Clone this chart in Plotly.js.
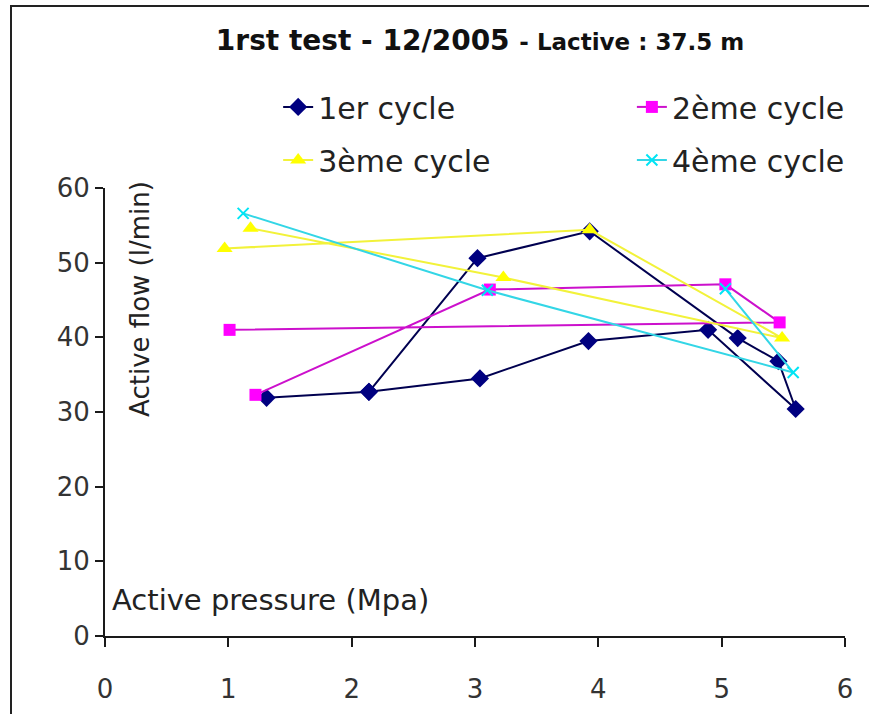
<!DOCTYPE html>
<html>
<head>
<meta charset="utf-8">
<script src="https://cdn.plot.ly/plotly-3.0.1.min.js"></script>
<style>
  html, body { margin: 0; padding: 0; background: #ffffff; }
  #chart { width: 869px; height: 714px; }
</style>
</head>
<body>
<div id="chart"></div>
<script>
// Active flow (l/min) against active pressure (MPa), four test cycles
const cycle1Pressure = [1.31, 2.14, 3.04, 3.92, 4.89, 5.60, 5.46, 5.13, 3.93, 3.02, 2.14];
const cycle1Flow     = [31.9, 32.7, 34.5, 39.5, 41.0, 30.4, 36.8, 39.9, 54.2, 50.6, 32.7];

const cycle2Pressure = [1.01, 5.47, 5.03, 3.12, 1.22];
const cycle2Flow     = [41.0, 42.0, 47.1, 46.4, 32.3];

const cycle3Pressure = [0.97, 3.93, 5.49, 3.23, 1.18];
const cycle3Flow     = [51.9, 54.4, 39.9, 48.0, 54.6];

const cycle4Pressure = [1.12, 3.10, 5.58, 5.03];
const cycle4Flow     = [56.6, 46.3, 35.3, 46.5];

const seriesNames = ['1er cycle', '2ème cycle', '3ème cycle', '4ème cycle'];
const xTicks = [0, 1, 2, 3, 4, 5, 6];
const yTicks = [0, 10, 20, 30, 40, 50, 60];

const FONT = 'DejaVu Sans, Arial, sans-serif';

const traces = [
  {
    x: cycle1Pressure, y: cycle1Flow, name: seriesNames[0], legend: 'legend',
    mode: 'lines+markers', type: 'scatter',
    line: { color: '#000050', width: 2 },
    marker: { symbol: 'diamond', size: 14, color: '#000080' }
  },
  {
    x: cycle2Pressure, y: cycle2Flow, name: seriesNames[1], legend: 'legend2',
    mode: 'lines+markers', type: 'scatter',
    line: { color: '#cc10cc', width: 2 },
    marker: { symbol: 'square', size: 12, color: '#ff00ff' }
  },
  {
    x: cycle3Pressure, y: cycle3Flow, name: seriesNames[2], legend: 'legend3',
    mode: 'lines+markers', type: 'scatter',
    line: { color: '#f2f23a', width: 2 },
    marker: { symbol: 'triangle-up', size: 14, color: '#ffff00' }
  },
  {
    x: cycle4Pressure, y: cycle4Flow, name: seriesNames[3], legend: 'legend4',
    mode: 'lines+markers', type: 'scatter',
    line: { color: '#33d6e6', width: 2 },
    marker: { symbol: 'x-thin', size: 11, color: '#00e5f5', line: { color: '#00e5f5', width: 2 } }
  }
];

// Legend laid out as a 2 x 2 grid, one legend box per entry
function legendAt(x, y) {
  return {
    orientation: 'h',
    xanchor: 'left', yanchor: 'middle',
    x: x, y: y,
    bgcolor: 'rgba(0,0,0,0)', borderwidth: 0,
    font: { family: FONT, size: 30, color: '#222222' }
  };
}
const colLeft = 0.234, colRight = 0.712;
const rowTop = 1.181, rowBottom = 1.0625;

const layout = {
  width: 869, height: 714,
  margin: { l: 105, r: 24, t: 188, b: 78, pad: 0 },
  paper_bgcolor: '#ffffff',
  plot_bgcolor: '#ffffff',
  font: { family: FONT, color: '#222222' },
  showlegend: true,
  title: {
    text: '<b>1rst test - 12/2005 <span style="font-size:23px">- Lactive : 37.5 m</span></b>',
    x: 480 / 869, xanchor: 'center',
    y: 1 - 40 / 714, yanchor: 'middle',
    font: { family: FONT, size: 28, color: '#111111' }
  },
  legend: legendAt(colLeft, rowTop),
  legend2: legendAt(colRight, rowTop),
  legend3: legendAt(colLeft, rowBottom),
  legend4: legendAt(colRight, rowBottom),
  xaxis: {
    range: [0, 6],
    tickvals: xTicks,
    ticktext: xTicks.map(String),
    showgrid: false, zeroline: false,
    showline: true, linecolor: '#1a1a1a', linewidth: 2,
    ticks: 'outside', ticklen: 9, tickwidth: 2, tickcolor: '#1a1a1a',
    ticklabelstandoff: 20,
    tickfont: { family: FONT, size: 26, color: '#333333' },
    fixedrange: true
  },
  yaxis: {
    range: [0, 60],
    tickvals: yTicks,
    ticktext: yTicks.map(String),
    showgrid: false, zeroline: false,
    showline: true, linecolor: '#1a1a1a', linewidth: 2,
    ticks: 'outside', ticklen: 8, tickwidth: 2, tickcolor: '#1a1a1a',
    tickfont: { family: FONT, size: 26, color: '#333333' },
    fixedrange: true
  },
  annotations: [
    {
      text: 'Active pressure (Mpa)',
      xref: 'paper', yref: 'paper',
      x: 0.007, y: 0.08, xanchor: 'left', yanchor: 'middle',
      showarrow: false,
      font: { family: FONT, size: 29, color: '#222222' }
    },
    {
      text: 'Active flow (l/min)',
      xref: 'paper', yref: 'paper',
      x: 0.047, y: 0.752, xanchor: 'center', yanchor: 'middle',
      textangle: -90,
      showarrow: false,
      font: { family: FONT, size: 26, color: '#222222' }
    }
  ],
  shapes: [
    {
      // outer chart frame (left and top edges visible)
      type: 'rect', xref: 'paper', yref: 'paper',
      x0: (11 - 105) / 740, x1: (890 - 105) / 740,
      y0: (636 - 730) / 448, y1: (636 - 6) / 448,
      line: { color: '#222222', width: 2 },
      fillcolor: 'rgba(0,0,0,0)',
      layer: 'above'
    }
  ]
};

Plotly.newPlot('chart', traces, layout, { displayModeBar: false, staticPlot: true });
</script>
</body>
</html>
